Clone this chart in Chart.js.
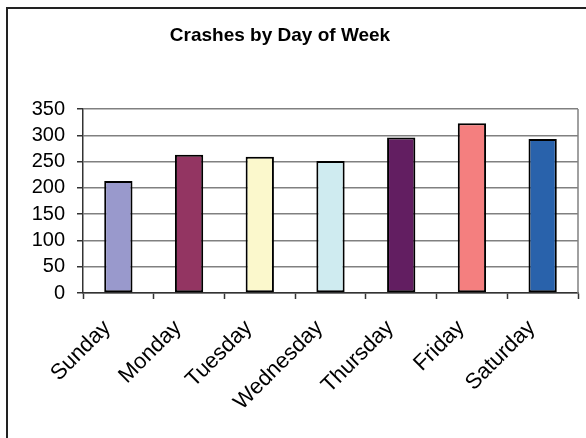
<!DOCTYPE html>
<html>
<head>
<meta charset="utf-8">
<script src="https://cdn.jsdelivr.net/npm/chart.js@4"></script>
<style>
    html, body { margin: 0; padding: 0; background: #fff; overflow: hidden; }
    #wrap { position: relative; width: 586px; height: 438px; }
    #title {
        position: absolute; left: 0; top: 25px; width: 560px;
        text-align: center; font: bold 19px Arial, "Liberation Sans", sans-serif;
        line-height: 19px; color: #000;
    }
    canvas { position: absolute; left: 0; top: 0; }
</style>
</head>
<body>
<div id="wrap">
    <canvas id="crashChart" width="586" height="438"></canvas>
    <div id="title">Crashes by Day of Week</div>
</div>
<script>
const days = ['Sunday', 'Monday', 'Tuesday', 'Wednesday', 'Thursday', 'Friday', 'Saturday'];
const crashes = [213, 263, 259, 251, 296, 323, 293];
const barColors = ['#9999CC', '#933562', '#FBF8CC', '#CFEBF0', '#621E61', '#F47F7F', '#2962AB'];
const yMin = 0;
const yMax = 350;
const yStep = 50;

// outer frame + grey right edge of the plot area
const framePlugin = {
    id: 'frame',
    beforeDraw(chart) {
        const ctx = chart.ctx;
        ctx.save();
        ctx.strokeStyle = '#222';
        ctx.lineWidth = 2;
        ctx.strokeRect(7, 8, 700, 700);
        ctx.restore();
    },
    beforeDatasetsDraw(chart) {
        const a = chart.chartArea;
        const ctx = chart.ctx;
        ctx.save();
        ctx.strokeStyle = '#808080';
        ctx.lineWidth = 1.5;
        ctx.beginPath();
        ctx.moveTo(a.right, a.top);
        ctx.lineTo(a.right, a.bottom);
        ctx.stroke();
        ctx.restore();
    }
};

document.addEventListener("DOMContentLoaded", function() {
    Chart.defaults.font.family = 'Arial, "Liberation Sans", sans-serif';
    Chart.defaults.color = '#000';

    const ctx = document.getElementById('crashChart').getContext('2d');
    new Chart(ctx, {
        type: 'bar',
        data: {
            labels: days,
            datasets: [{
                data: crashes,
                backgroundColor: barColors,
                borderColor: '#000',
                borderWidth: 2,
                borderSkipped: false,
                barPercentage: 0.4,
                categoryPercentage: 1
            }]
        },
        options: {
            responsive: false,
            animation: false,
            layout: {
                padding: { left: 31, right: 8, top: 109, bottom: 0 }
            },
            plugins: {
                legend: { display: false },
                title: { display: false },
                tooltip: { enabled: false }
            },
            scales: {
                x: {
                    afterFit(scale) {
                        // rotated labels may hang past the plot edge
                        scale.paddingLeft = 0;
                        scale.paddingRight = 0;
                        scale.height = 145;
                    },
                    grid: {
                        offset: true,
                        drawOnChartArea: false,
                        drawTicks: true,
                        tickLength: 6,
                        tickColor: '#333',
                        tickWidth: 1.5
                    },
                    border: { color: '#333', width: 1.5 },
                    ticks: {
                        font: { size: 22 },
                        minRotation: 45,
                        maxRotation: 45,
                        padding: 16,
                        labelOffset: -11
                    }
                },
                y: {
                    min: yMin,
                    max: yMax,
                    afterFit(scale) {
                        scale.width = 52;
                    },
                    grid: {
                        color: '#808080',
                        lineWidth: 1.5,
                        tickLength: 6,
                        tickColor: '#333',
                        tickWidth: 1.5
                    },
                    border: { color: '#333', width: 1.5 },
                    ticks: {
                        stepSize: yStep,
                        autoSkip: false,
                        font: { size: 20 },
                        padding: 12
                    }
                }
            }
        },
        plugins: [framePlugin]
    });
});
</script>
</body>
</html>
